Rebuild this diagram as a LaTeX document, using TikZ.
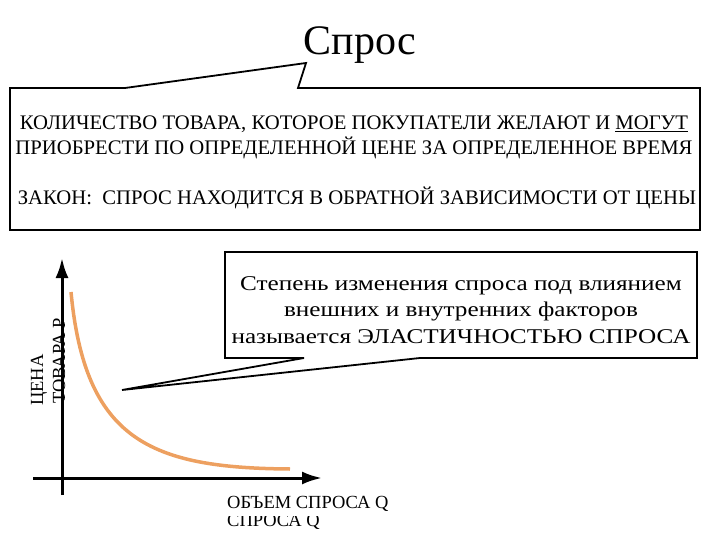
\documentclass[tikz,border=0pt]{standalone}
\usepackage{fontspec}
\setmainfont{Liberation Serif}
\newfontfamily\widefont[FakeStretch=1.2]{Liberation Serif}
\usetikzlibrary{arrows.meta}
\definecolor{demandorange}{RGB}{237,160,96}

\begin{document}
\begin{tikzpicture}[x=1pt,y=-1pt,
  callout/.style={draw,line width=1.8pt,line join=miter},
  axis/.style={line width=3pt,-{Latex[length=20pt,width=13pt]}},
  caps/.style={font=\fontsize{20.7}{24}\selectfont,inner sep=0pt,anchor=base},
  remark/.style={font=\widefont\fontsize{21}{26}\selectfont,inner sep=0pt,anchor=base},
  axislabel/.style={font=\fontsize{18.5}{20}\selectfont,inner sep=0pt,anchor=base west}]
\useasboundingbox (0,0) rectangle (720,540);
% заголовок
\node[font=\fontsize{42}{42}\selectfont,inner sep=0pt,anchor=base] (title) at (360,55) {Спрос};
% верхняя выноска
\coordinate (tip1) at (306,63);
\draw[callout] (10,88) -- (125,88) -- (tip1) -- (298,88) -- (700,88) -- (700,230) -- (10,230) -- cycle;
\node[caps] (def1) at (354,130) {КОЛИЧЕСТВО ТОВАРА, КОТОРОЕ ПОКУПАТЕЛИ ЖЕЛАЮТ И \underline{МОГУТ}};
\node[caps] (def2) at (354,155) {ПРИОБРЕСТИ ПО ОПРЕДЕЛЕННОЙ ЦЕНЕ ЗА ОПРЕДЕЛЕННОЕ ВРЕМЯ};
\node[caps] (law) at (357,205) {ЗАКОН:\ \ СПРОС НАХОДИТСЯ В ОБРАТНОЙ ЗАВИСИМОСТИ ОТ ЦЕНЫ};
% нижняя выноска
\coordinate (tip2) at (122,390);
\draw[callout] (225,252) -- (697,252) -- (697,358) -- (420,358) -- (tip2) -- (304,358) -- (225,358) -- cycle;
\node[remark] (el1) at (461,290) {Степень изменения спроса под влиянием};
\node[remark] (el2) at (461,316) {внешних и внутренних факторов};
\node[remark] (el3) at (461,343) {называется ЭЛАСТИЧНОСТЬЮ СПРОСА};
% оси
\coordinate (ybot) at (62,495);
\coordinate (ytop) at (62,258);
\coordinate (xleft) at (33,478);
\coordinate (xright) at (322,478);
\draw[axis] (ybot) -- (ytop);
\draw[axis] (xleft) -- (xright);
% кривая спроса
\draw[demandorange,line width=3.5pt] (71,292) .. controls (85,440) and (150,468) .. (290,469);
% подписи осей
\node[axislabel,rotate=90] (plab1) at (43,406) {ЦЕНА};
\node[axislabel,rotate=90] (plab2) at (65,404) {ТОВАРА P};
\node[axislabel] (qlab1) at (227,508) {ОБЪЕМ СПРОСА Q};
\begin{scope}
\clip (200,516) rectangle (420,540);
\node[axislabel] (qlab2) at (227,526) {СПРОСА Q};
\end{scope}
\end{tikzpicture}
\end{document}
